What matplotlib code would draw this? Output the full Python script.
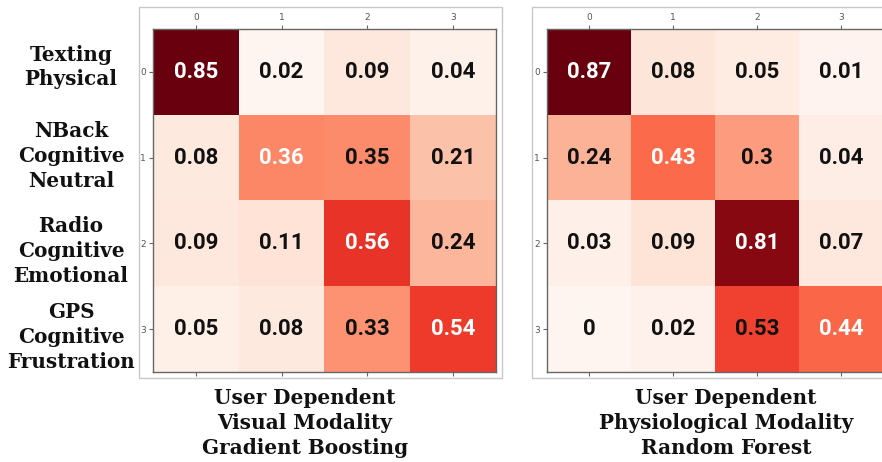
import numpy as np
import matplotlib.pyplot as plt
from matplotlib.patches import Rectangle

# Normalised confusion matrices (rows = true class, cols = predicted)
class_labels = ["Texting\nPhysical", "NBack\nCognitive\nNeutral",
                "Radio\nCognitive\nEmotional", "GPS\nCognitive\nFrustration"]

cm_visual_gb = [
    [0.85, 0.02, 0.09, 0.04],
    [0.08, 0.36, 0.35, 0.21],
    [0.09, 0.11, 0.56, 0.24],
    [0.05, 0.08, 0.33, 0.54],
]
cm_physio_rf = [
    [0.87, 0.08, 0.05, 0.01],
    [0.24, 0.43, 0.3, 0.04],
    [0.03, 0.09, 0.81, 0.07],
    [0, 0.02, 0.53, 0.44],
]
titles = ["User Dependent\nVisual Modality\nGradient Boosting",
          "User Dependent\nPhysiological Modality\nRandom Forest"]

W, H = 882, 462
fig = plt.figure(figsize=(W / 100, H / 100), dpi=100)

label_font = dict(family="DejaVu Serif", fontweight="bold", fontsize=14.4,
                  color="#111111", linespacing=1.3)


def px_axes(x0, y0, x1, y1):
    return fig.add_axes([x0 / W, 1 - y1 / H, (x1 - x0) / W, (y1 - y0) / H])


def frame(x0, y0, x1, y1):
    fig.patches.append(Rectangle((x0 / W, 1 - y1 / H), (x1 - x0) / W, (y1 - y0) / H,
                                 transform=fig.transFigure, fill=False,
                                 edgecolor="#c8c8c8", linewidth=1.0))


def draw_cm(ax, cm):
    cm = np.array(cm, dtype=float)
    ax.imshow(cm, cmap="Reds", aspect="auto", interpolation="nearest")
    n = cm.shape[0]
    for i in range(n):
        for j in range(n):
            ax.text(j, i, f"{cm[i, j]:g}", ha="center", va="center",
                    family="Roboto", fontweight="bold", fontsize=16,
                    color="white" if i == j else "#111111")
    ax.set_xticks(range(n))
    ax.set_yticks(range(n))
    ax.tick_params(top=True, labeltop=True, bottom=True, labelbottom=False,
                   length=3, width=0.8, color="#666666", labelsize=6.5,
                   labelcolor="#555555", pad=2)
    for s in ax.spines.values():
        s.set_color("#666666")
        s.set_linewidth(1.0)


frame(139, 7, 502, 378)
frame(532, 7, 900, 378)

ax1 = px_axes(153, 29, 496, 372)
draw_cm(ax1, cm_visual_gb)
ax2 = px_axes(547, 29, 883, 372)
draw_cm(ax2, cm_physio_rf)

# Class names to the left of the first matrix
row_centers = [67, 156, 251, 337]
for name, yc in zip(class_labels, row_centers):
    fig.text(71 / W, 1 - yc / H, name, ha="center", va="center", **label_font)

fig.text(305 / W, 1 - 423 / H, titles[0], ha="center", va="center", **label_font)
fig.text(726 / W, 1 - 423 / H, titles[1], ha="center", va="center", **label_font)

fig.savefig("out.png", dpi=100, facecolor="white")
